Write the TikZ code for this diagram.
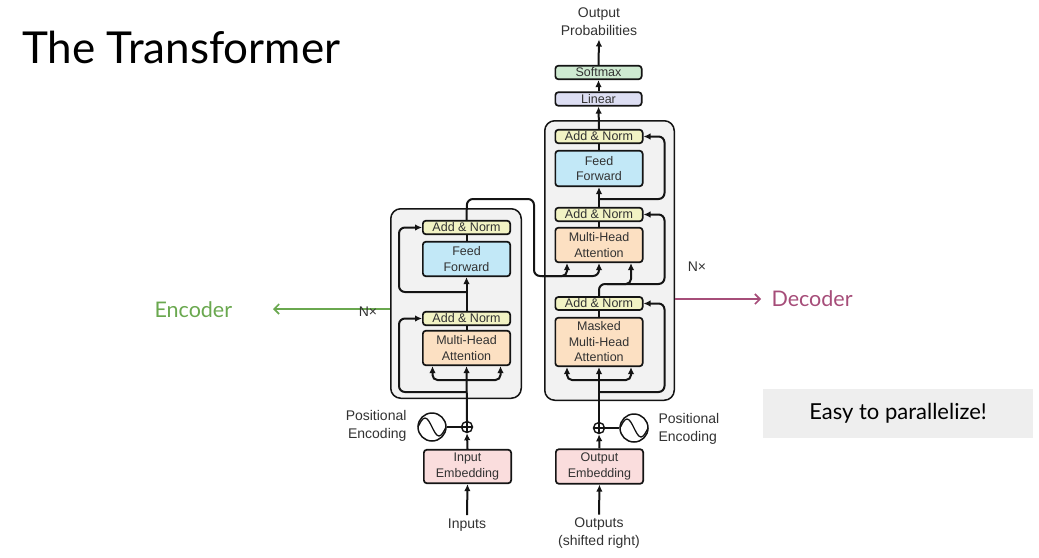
\documentclass[tikz,border=0pt]{standalone}
\usepackage{fontspec}
\setmainfont{Lato}
\newfontfamily\diagfont{Liberation Sans}
\usetikzlibrary{arrows.meta}
\definecolor{tfAdd}{RGB}{242,243,196}
\definecolor{tfFeed}{RGB}{194,232,247}
\definecolor{tfAttn}{RGB}{252,224,194}
\definecolor{tfEmbed}{RGB}{250,221,221}
\definecolor{tfSoftmax}{RGB}{206,234,209}
\definecolor{tfLinear}{RGB}{221,222,243}
\definecolor{tfStack}{RGB}{242,242,242}
\definecolor{tfEasy}{RGB}{238,238,238}
\definecolor{tfLine}{RGB}{20,20,20}
\definecolor{tfText}{RGB}{50,50,50}
\definecolor{tfGreen}{RGB}{106,168,79}
\definecolor{tfMagenta}{RGB}{166,77,121}

\begin{document}
\begin{tikzpicture}[x=1pt,y=-1pt]
\tikzstyle{every node}=[font=\diagfont\fontsize{14}{18}\selectfont, text=tfText]
\tikzstyle{sublayer}=[draw=tfLine, line width=1.7pt, rounded corners=3pt, inner sep=0pt, align=center, minimum width=87.3pt, font=\diagfont\fontsize{12.5}{15.5}\selectfont]
\tikzstyle{stackbox}=[draw=tfLine, fill=tfStack, line width=1.5pt, rounded corners=10pt, inner sep=0pt]
\tikzstyle{flow}=[draw=tfLine, line width=2pt, rounded corners=6pt, -{Latex[length=7pt,width=6.5pt]}]
\tikzstyle{wire}=[draw=tfLine, line width=2pt, rounded corners=6pt]
\tikzstyle{pluscirc}=[draw=tfLine, circle, line width=1.4pt, minimum size=11pt, inner sep=0pt]
\tikzstyle{sinecirc}=[draw=tfLine, circle, line width=1.5pt, minimum size=28pt, inner sep=0pt]

  \useasboundingbox (0,0) rectangle (1039,557);

  \node[font=\fontsize{44}{50}\selectfont, text=black, anchor=base west, inner sep=0pt] (title) at (22,63) {The Transformer};

  % stacks
  \node[stackbox, minimum width=130.5pt, minimum height=189.5pt] (encStack) at (456,303.5) {};
  \node[stackbox, minimum width=129.5pt, minimum height=279.5pt] (decStack) at (609.5,260.5) {};

  % encoder
  \node[sublayer, fill=tfAdd, minimum height=13.5pt] (encAdd2) at (466.5,227.5) {Add \& Norm};
  \node[sublayer, fill=tfFeed, minimum height=34.5pt] (encFF) at (466.5,259) {Feed\\Forward};
  \node[sublayer, fill=tfAdd, minimum height=13.5pt] (encAdd1) at (466.5,318.5) {Add \& Norm};
  \node[sublayer, fill=tfAttn, minimum height=34.5pt] (encMHA) at (466.5,348) {Multi-Head\\Attention};
  \node[sublayer, fill=tfEmbed, minimum height=33.5pt] (inEmb) at (467.5,466.5) {Input\\Embedding};
  \node[pluscirc] (encPlus) at (467,427) {};
  \node[sinecirc] (encSine) at (432,427) {};
  \node[align=right, anchor=east] (encPos) at (410,426) {Positional\\Encoding};
  \node (inputs) at (467,525) {Inputs};

  % decoder
  \node[sublayer, fill=tfAdd, minimum height=13.5pt] (decAdd3) at (599,136.5) {Add \& Norm};
  \node[sublayer, fill=tfFeed, minimum height=35.5pt] (decFF) at (599,168.5) {Feed\\Forward};
  \node[sublayer, fill=tfAdd, minimum height=13.5pt] (decAdd2) at (599,214.5) {Add \& Norm};
  \node[sublayer, fill=tfAttn, minimum height=34.5pt] (decMHA) at (599,245) {Multi-Head\\Attention};
  \node[sublayer, fill=tfAdd, minimum height=13pt] (decAdd1) at (599,303.5) {Add \& Norm};
  \node[sublayer, fill=tfAttn, minimum height=48.5pt] (decMMHA) at (599,342) {Masked\\Multi-Head\\Attention};
  \node[sublayer, fill=tfEmbed, minimum height=34.5pt] (outEmb) at (599.5,466.5) {Output\\Embedding};
  \node[pluscirc] (decPlus) at (599,428) {};
  \node[sinecirc] (decSine) at (634,428) {};
  \node[align=left, anchor=west] (decPos) at (655,429) {Positional\\Encoding};
  \node[align=center] (outputs) at (599,533.5) {Outputs\\(shifted right)};

  % output head
  \node[sublayer, fill=tfLinear, minimum height=13.5pt, minimum width=86.3pt] (linear) at (598.5,99) {Linear};
  \node[sublayer, fill=tfSoftmax, minimum height=13.5pt, minimum width=86.3pt] (softmax) at (598.5,72.5) {Softmax};
  \node[align=center] (outProb) at (599,22) {Output\\Probabilities};

  % encoder connections
  \coordinate (encFork) at (467,380);
  \coordinate (encRes1) at (467,392);
  \coordinate (encRes2) at (467,292);
  \coordinate (encTop) at (467,199);
  \coordinate (encOut) at (534,276);
  \draw[flow] (inputs.north) -- (inEmb.south);
  \draw[flow] (inEmb.north) -- (encPlus.south);
  \draw[flow] (encPlus.north) -- (encMHA.south);
  \draw[flow, rounded corners=5pt] (encFork) -| ([xshift=-34pt]encMHA.south);
  \draw[flow, rounded corners=5pt] (encFork) -| ([xshift=34pt]encMHA.south);
  \draw[flow] (encRes1) -| ([xshift=-23pt]encAdd1.west) -- (encAdd1.west);
  \draw[wire] (encMHA.north) -- (encAdd1.south);
  \draw[flow] (encAdd1.north) -- (encFF.south);
  \draw[flow] (encRes2) -| ([xshift=-23pt]encAdd2.west) -- (encAdd2.west);
  \draw[wire] (encFF.north) -- (encAdd2.south);
  \draw[flow] (encAdd2.north) -- (encTop) -| (encOut) -| (decMHA.south);
  \draw[flow, rounded corners=5pt] ([xshift=8pt]encOut) -| ([xshift=-32pt]decMHA.south);
  \draw[wire, line width=1.5pt] (encSine.east) -- (encPlus.west);
  \draw[line width=1.2pt, draw=tfLine] (encPlus.north) -- (encPlus.south) (encPlus.west) -- (encPlus.east);
  \draw[line width=1.3pt, draw=tfLine] ([xshift=-14pt]encSine.center) sin ++(7,-9) cos ++(7,9) sin ++(7,9) cos ++(7,-9);

  % decoder connections
  \coordinate (decFork) at (599,380);
  \coordinate (decRes1) at (599,392);
  \coordinate (decRes2) at (599,284);
  \coordinate (decRes3) at (599,199);
  \draw[flow] (outputs.north) -- (outEmb.south);
  \draw[flow] (outEmb.north) -- (decPlus.south);
  \draw[flow] (decPlus.north) -- (decMMHA.south);
  \draw[flow, rounded corners=5pt] (decFork) -| ([xshift=-32pt]decMMHA.south);
  \draw[flow, rounded corners=5pt] (decFork) -| ([xshift=32pt]decMMHA.south);
  \draw[flow] (decRes1) -| ([xshift=21pt]decAdd1.east) -- (decAdd1.east);
  \draw[wire] (decMMHA.north) -- (decAdd1.south);
  \draw[flow] (decAdd1.north) -- (decRes2) -| ([xshift=21pt]decAdd2.east) -- (decAdd2.east);
  \draw[flow, rounded corners=5pt] ([xshift=8pt]decRes2) -| ([xshift=32pt]decMHA.south);
  \draw[wire] (decMHA.north) -- (decAdd2.south);
  \draw[flow] (decAdd2.north) -- (decFF.south);
  \draw[flow] (decRes3) -| ([xshift=21pt]decAdd3.east) -- (decAdd3.east);
  \draw[wire] (decFF.north) -- (decAdd3.south);
  \draw[flow] (decAdd3.north) -- (linear.south);
  \draw[flow] (linear.north) -- (softmax.south);
  \draw[flow] (softmax.north) -- (outProb.south);
  \draw[wire, line width=1.5pt] (decPlus.east) -- (decSine.west);
  \draw[line width=1.2pt, draw=tfLine] (decPlus.north) -- (decPlus.south) (decPlus.west) -- (decPlus.east);
  \draw[line width=1.3pt, draw=tfLine] ([xshift=-14pt]decSine.center) sin ++(7,-9) cos ++(7,9) sin ++(7,9) cos ++(7,-9);

  % labels
  \coordinate (encTip) at (273,309);
  \coordinate (decTip) at (761,299);
  \draw[draw=tfGreen, line width=1.6pt, -{Straight Barb[length=5pt,width=10pt]}] (encStack.west |- encTip) -- (encTip);
  \draw[draw=tfMagenta, line width=1.6pt, -{Straight Barb[length=5pt,width=10pt]}] (decStack.east |- decTip) -- (decTip);
  \node[font=\fontsize{21.5}{25}\selectfont, text=tfGreen, anchor=west] (encLabel) at (151,310) {Encoder};
  \node[font=\fontsize{21.5}{25}\selectfont, text=tfMagenta, anchor=west] (decLabel) at (768,299) {Decoder};
  \node (encN) at (368,312) {N×};
  \node (decN) at (697,267) {N×};

  \node[fill=tfEasy, minimum width=270pt, minimum height=49pt, font=\fontsize{22}{26}\selectfont, text=black] (easy) at (898,413.5) {Easy to parallelize!};

\end{tikzpicture}
\end{document}
